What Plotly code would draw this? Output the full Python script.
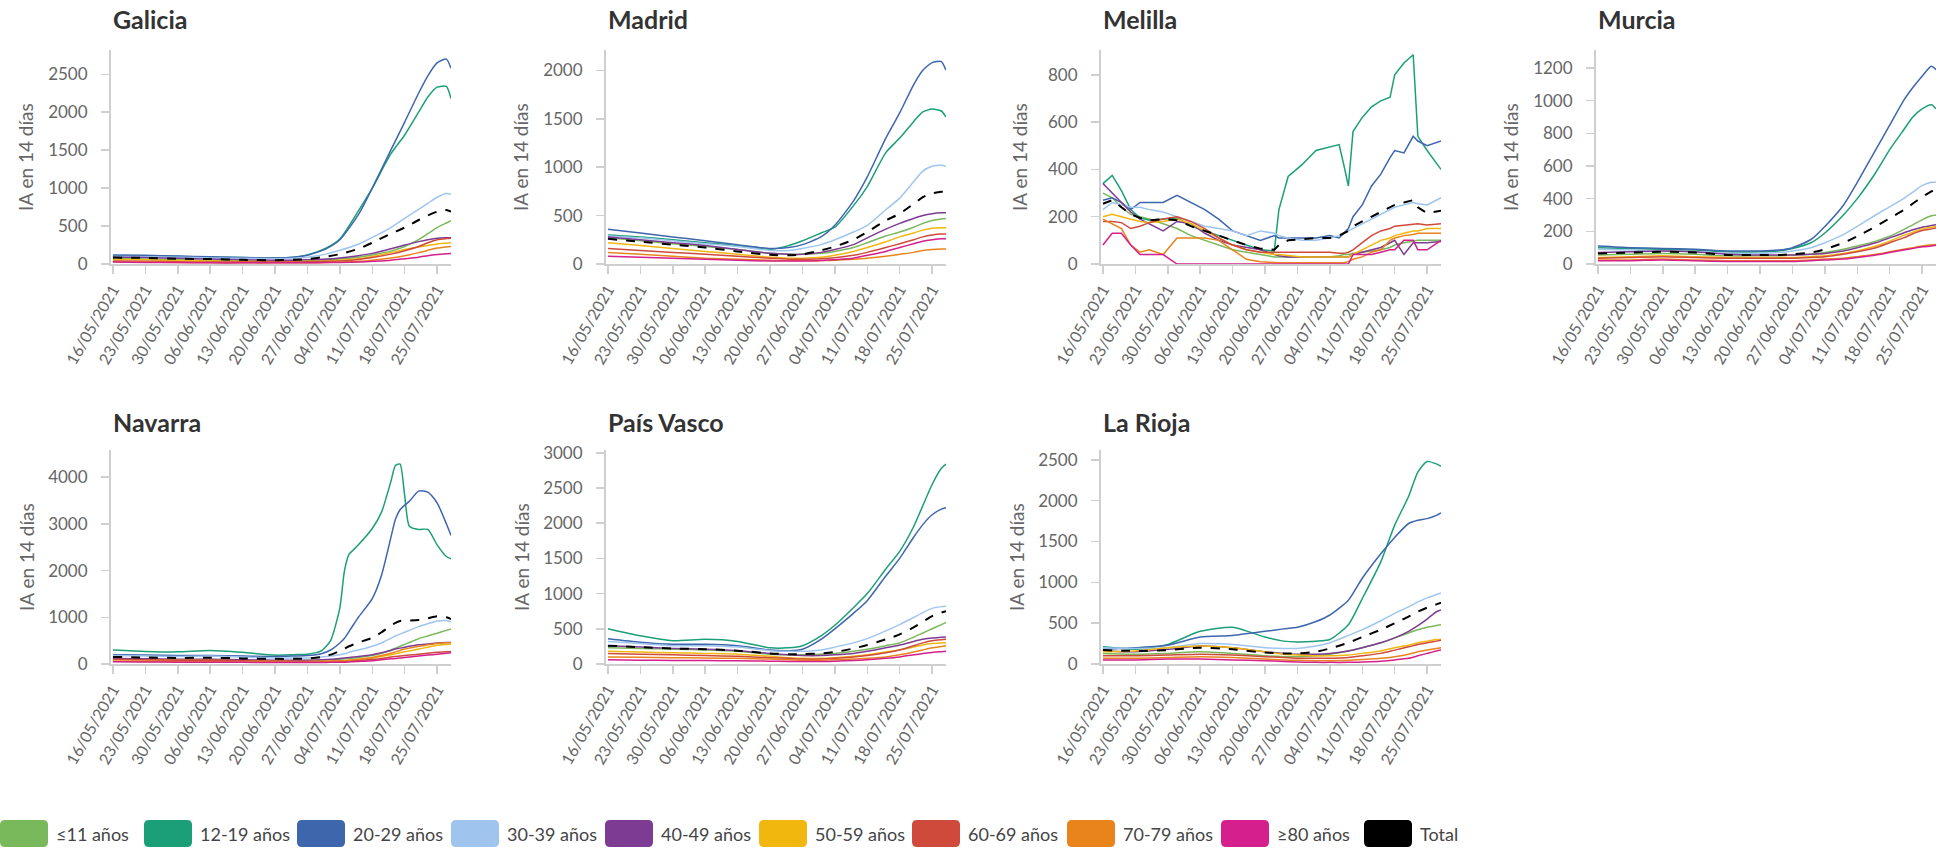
import plotly.graph_objects as go

# ---------------- DATA ----------------
SERIES = ["≤11 años", "12-19 años", "20-29 años", "30-39 años", "40-49 años",
          "50-59 años", "60-69 años", "70-79 años", "≥80 años", "Total"]
COLORS = ["#7ab85c", "#1b9f78", "#3d66ad", "#9fc5ef", "#7d3b93",
          "#f1b70f", "#cf4a3b", "#e9841c", "#d51f8d", "#000000"]
Y_TITLE = "IA en 14 días"

DATES_S = ["2021-05-16", "2021-05-23", "2021-05-30", "2021-06-06", "2021-06-13", "2021-06-20",
           "2021-06-24", "2021-06-27", "2021-07-01", "2021-07-04", "2021-07-08", "2021-07-11",
           "2021-07-15", "2021-07-18", "2021-07-21", "2021-07-23", "2021-07-25", "2021-07-27",
           "2021-07-28"]

DATES_NAV = ["2021-05-16", "2021-05-23", "2021-05-30", "2021-06-06", "2021-06-13", "2021-06-20",
             "2021-06-24", "2021-06-27", "2021-06-30", "2021-07-02", "2021-07-04", "2021-07-05",
             "2021-07-06", "2021-07-07", "2021-07-08", "2021-07-11", "2021-07-13", "2021-07-15",
             "2021-07-16", "2021-07-17", "2021-07-18", "2021-07-19", "2021-07-21", "2021-07-23",
             "2021-07-25", "2021-07-27", "2021-07-28"]

DATES_MEL = ["2021-05-16", "2021-05-18", "2021-05-20", "2021-05-22", "2021-05-24", "2021-05-26",
             "2021-05-29", "2021-06-01", "2021-06-04", "2021-06-07", "2021-06-10", "2021-06-13",
             "2021-06-16", "2021-06-19", "2021-06-22", "2021-06-23", "2021-06-25", "2021-06-28",
             "2021-07-01", "2021-07-04", "2021-07-06", "2021-07-07", "2021-07-08", "2021-07-09",
             "2021-07-11", "2021-07-13", "2021-07-15", "2021-07-17", "2021-07-18", "2021-07-20",
             "2021-07-22", "2021-07-23", "2021-07-25", "2021-07-28"]

# Galicia (DATES_S)
GAL_11 = [70, 65, 55, 50, 45, 40, 40, 45, 55, 65, 90, 120, 170, 230, 320, 400, 480, 540, 570]
GAL_12 = [110, 105, 100, 90, 85, 80, 90, 120, 210, 330, 700, 1000, 1450, 1700, 2000, 2200, 2330, 2340, 2180]
GAL_20 = [120, 115, 105, 95, 85, 80, 90, 115, 200, 320, 650, 1000, 1500, 1870, 2250, 2480, 2650, 2700, 2580]
GAL_30 = [100, 95, 90, 80, 75, 70, 75, 90, 130, 180, 260, 350, 480, 600, 720, 800, 880, 930, 920]
GAL_40 = [90, 85, 75, 65, 55, 50, 50, 55, 65, 80, 110, 140, 200, 250, 295, 320, 340, 345, 345]
GAL_50 = [60, 55, 45, 40, 35, 30, 30, 35, 40, 50, 70, 100, 150, 190, 225, 245, 265, 275, 280]
GAL_60 = [40, 35, 30, 25, 25, 25, 25, 30, 35, 40, 60, 85, 130, 175, 230, 280, 320, 335, 340]
GAL_70 = [30, 25, 20, 20, 15, 15, 15, 15, 20, 25, 35, 50, 80, 110, 150, 180, 210, 225, 230]
GAL_80 = [25, 20, 20, 15, 15, 15, 15, 15, 20, 20, 25, 35, 50, 70, 90, 110, 125, 135, 140]
GAL_TOT = [85, 80, 70, 65, 55, 50, 55, 65, 95, 130, 200, 280, 400, 480, 580, 640, 690, 710, 690]

# Madrid (DATES_S)
MAD_11 = [270, 240, 210, 180, 150, 110, 100, 100, 110, 130, 170, 220, 290, 330, 380, 420, 450, 465, 470]
MAD_12 = [300, 280, 250, 220, 190, 150, 190, 240, 320, 380, 600, 800, 1150, 1300, 1470, 1570, 1600, 1580, 1520]
MAD_20 = [360, 320, 280, 240, 200, 160, 170, 200, 280, 400, 650, 900, 1300, 1560, 1850, 2000, 2080, 2090, 2000]
MAD_30 = [290, 270, 240, 210, 180, 140, 140, 160, 200, 250, 330, 400, 560, 680, 850, 960, 1010, 1020, 1010]
MAD_40 = [280, 250, 220, 190, 150, 110, 100, 100, 120, 150, 200, 270, 360, 420, 470, 500, 520, 530, 530]
MAD_50 = [220, 190, 160, 130, 100, 70, 60, 60, 70, 90, 130, 170, 230, 280, 320, 350, 370, 375, 375]
MAD_60 = [160, 140, 120, 100, 80, 60, 50, 50, 55, 65, 90, 120, 170, 210, 250, 280, 300, 310, 310]
MAD_70 = [120, 100, 80, 60, 50, 40, 35, 35, 35, 40, 50, 60, 80, 100, 120, 140, 150, 155, 155]
MAD_80 = [80, 70, 60, 50, 40, 30, 30, 30, 35, 45, 60, 90, 130, 170, 210, 235, 250, 260, 260]
MAD_TOT = [260, 230, 200, 170, 130, 95, 90, 100, 140, 180, 250, 330, 450, 520, 620, 690, 730, 745, 745]

# Melilla (DATES_MEL)
MEL_11 = [300, 280, 240, 210, 200, 190, 170, 150, 120, 100, 80, 60, 50, 40, 30, 30, 30, 30, 30, 30,
          35, 40, 40, 45, 50, 55, 60, 70, 80, 90, 95, 100, 100, 100]
MEL_12 = [340, 375, 310, 230, 195, 185, 190, 195, 160, 140, 120, 100, 80, 60, 55, 230, 370, 420, 480, 495,
          505, 420, 330, 560, 620, 665, 690, 705, 800, 850, 885, 540, 480, 400]
MEL_20 = [270, 280, 260, 230, 260, 260, 260, 290, 260, 230, 190, 140, 120, 100, 120, 110, 110, 110, 110, 120,
          110, 130, 150, 200, 250, 330, 380, 450, 480, 470, 540, 520, 500, 520]
MEL_30 = [230, 260, 250, 240, 240, 230, 220, 200, 180, 160, 150, 140, 120, 140, 130, 120, 110, 100, 100, 110,
          120, 130, 140, 150, 170, 190, 210, 230, 240, 250, 260, 255, 250, 280]
MEL_40 = [340, 300, 260, 220, 190, 170, 140, 180, 170, 130, 100, 80, 70, 60, 40, 35, 30, 30, 30, 30,
          30, 30, 30, 40, 50, 60, 70, 90, 100, 40, 90, 90, 90, 95]
MEL_50 = [200, 210, 200, 190, 180, 175, 180, 190, 170, 140, 110, 80, 60, 50, 40, 40, 35, 30, 30, 30,
          30, 30, 30, 40, 60, 80, 100, 110, 120, 130, 140, 140, 150, 150]
MEL_60 = [180, 180, 175, 150, 160, 175, 190, 200, 180, 150, 110, 80, 60, 50, 50, 50, 50, 50, 50, 50,
          45, 45, 50, 60, 90, 120, 140, 150, 160, 165, 170, 170, 165, 170]
MEL_70 = [190, 170, 150, 80, 50, 60, 40, 110, 110, 110, 100, 60, 20, 10, 5, 5, 5, 5, 5, 5,
          5, 5, 10, 20, 30, 50, 60, 100, 110, 120, 125, 130, 130, 130]
MEL_80 = [80, 130, 130, 80, 40, 40, 40, 0, 0, 0, 0, 0, 0, 0, 0, 0, 0, 0, 0, 0,
          0, 0, 0, 40, 40, 40, 50, 60, 60, 100, 100, 60, 60, 100]
MEL_TOT = [255, 270, 240, 210, 195, 185, 190, 185, 160, 140, 120, 100, 80, 65, 60, 80, 100, 105, 110, 110,
           120, 130, 140, 160, 180, 200, 220, 240, 250, 260, 270, 240, 215, 225]

# Murcia (DATES_S)
MUR_11 = [55, 60, 65, 60, 50, 50, 50, 55, 60, 70, 90, 110, 140, 170, 210, 240, 270, 295, 300]
MUR_12 = [100, 95, 90, 85, 75, 75, 80, 95, 130, 190, 300, 400, 560, 700, 820, 900, 950, 975, 950]
MUR_20 = [110, 100, 95, 90, 80, 80, 85, 100, 150, 230, 360, 500, 700, 850, 1000, 1080, 1150, 1210, 1190]
MUR_30 = [90, 85, 80, 75, 65, 65, 70, 80, 100, 130, 180, 230, 300, 350, 400, 440, 480, 500, 500]
MUR_40 = [70, 75, 80, 75, 60, 55, 55, 55, 60, 65, 80, 100, 130, 160, 190, 210, 225, 235, 240]
MUR_50 = [40, 45, 50, 45, 40, 40, 40, 40, 45, 50, 65, 80, 110, 140, 175, 195, 215, 225, 230]
MUR_60 = [35, 40, 45, 40, 35, 35, 35, 35, 40, 45, 60, 75, 100, 130, 160, 185, 205, 215, 220]
MUR_70 = [25, 25, 30, 25, 20, 20, 20, 20, 25, 30, 35, 45, 60, 75, 90, 100, 110, 118, 120]
MUR_80 = [20, 20, 25, 20, 15, 15, 15, 15, 20, 25, 30, 40, 55, 70, 85, 95, 105, 110, 115]
MUR_TOT = [65, 70, 75, 70, 55, 55, 55, 60, 70, 90, 130, 170, 230, 280, 330, 370, 410, 445, 460]

# Navarra (DATES_NAV)
NAV_11 = [100, 95, 90, 95, 80, 70, 70, 75, 80, 90, 100, 110, 120, 130, 140, 180, 230, 300, 340, 380,
          420, 460, 540, 600, 660, 720, 750]
NAV_12 = [300, 270, 260, 290, 250, 190, 200, 210, 280, 500, 1200, 2000, 2350, 2450, 2550, 2900, 3250, 3900,
          4250, 4280, 3600, 2950, 2880, 2880, 2550, 2300, 2250]
NAV_20 = [200, 190, 180, 180, 170, 160, 170, 180, 220, 300, 450, 550, 700, 850, 1000, 1400, 1900, 2700,
          3100, 3300, 3400, 3480, 3700, 3680, 3450, 3000, 2750]
NAV_30 = [180, 170, 160, 170, 150, 130, 130, 130, 150, 170, 200, 220, 250, 280, 300, 380, 450, 550, 600,
          640, 680, 720, 800, 860, 920, 930, 900]
NAV_40 = [120, 110, 100, 100, 90, 80, 80, 80, 90, 100, 120, 130, 140, 150, 160, 200, 240, 290, 320, 340,
          360, 380, 410, 430, 450, 460, 460]
NAV_50 = [90, 85, 80, 80, 70, 60, 55, 55, 60, 65, 70, 75, 80, 90, 100, 130, 160, 200, 220, 240, 260,
          280, 320, 360, 400, 420, 430]
NAV_60 = [100, 90, 80, 80, 70, 60, 55, 55, 55, 55, 60, 60, 65, 70, 75, 100, 120, 150, 160, 170, 180,
          190, 210, 230, 250, 260, 270]
NAV_70 = [60, 55, 50, 50, 45, 40, 40, 40, 45, 50, 60, 70, 80, 90, 100, 140, 180, 230, 260, 290, 320,
          340, 380, 410, 440, 455, 460]
NAV_80 = [50, 45, 40, 40, 35, 30, 30, 30, 30, 35, 40, 40, 45, 50, 55, 70, 90, 110, 120, 130, 140, 150,
          170, 190, 210, 230, 240]
NAV_TOT = [150, 140, 130, 135, 120, 110, 110, 115, 150, 200, 280, 330, 380, 420, 460, 560, 680, 820, 880,
           920, 930, 930, 940, 980, 1020, 1000, 960]

# Pais Vasco (DATES_S)
PV_11 = [230, 220, 210, 200, 180, 140, 130, 130, 140, 150, 180, 210, 260, 300, 380, 440, 500, 560, 590]
PV_12 = [500, 400, 330, 350, 320, 230, 230, 260, 400, 550, 800, 1000, 1350, 1600, 1950, 2250, 2550, 2780, 2840]
PV_20 = [360, 310, 280, 280, 260, 200, 190, 210, 350, 500, 720, 900, 1250, 1500, 1800, 1980, 2120, 2200, 2220]
PV_30 = [320, 290, 260, 260, 240, 190, 180, 180, 200, 240, 300, 360, 470, 560, 660, 730, 790, 815, 820]
PV_40 = [260, 240, 220, 210, 190, 150, 130, 120, 120, 130, 150, 180, 230, 270, 320, 350, 370, 380, 385]
PV_50 = [180, 170, 160, 150, 140, 110, 90, 80, 80, 90, 110, 130, 170, 200, 240, 270, 290, 300, 300]
PV_60 = [150, 140, 130, 120, 110, 90, 80, 70, 70, 80, 100, 120, 160, 200, 260, 300, 330, 345, 350]
PV_70 = [100, 95, 90, 85, 80, 70, 60, 55, 55, 60, 70, 80, 100, 130, 170, 200, 230, 250, 260]
PV_80 = [60, 55, 50, 50, 45, 40, 35, 35, 35, 40, 50, 60, 80, 100, 130, 150, 165, 175, 180]
PV_TOT = [260, 240, 220, 210, 190, 150, 140, 140, 150, 170, 220, 270, 350, 420, 520, 600, 680, 730, 750]

# La Rioja (DATES_S)
LR_11 = [130, 120, 130, 150, 130, 100, 90, 90, 100, 120, 160, 200, 260, 320, 380, 420, 450, 470, 480]
LR_12 = [210, 180, 240, 400, 450, 330, 280, 270, 280, 300, 480, 800, 1250, 1700, 2050, 2350, 2480, 2450, 2420]
LR_20 = [180, 200, 230, 330, 350, 400, 430, 450, 520, 600, 780, 1050, 1350, 1550, 1720, 1760, 1780, 1820, 1850]
LR_30 = [200, 190, 200, 250, 240, 200, 190, 190, 220, 260, 350, 420, 530, 620, 700, 760, 810, 850, 870]
LR_40 = [160, 150, 180, 220, 200, 150, 130, 120, 120, 130, 160, 200, 260, 320, 400, 470, 550, 640, 660]
LR_50 = [150, 160, 200, 220, 200, 150, 120, 110, 100, 100, 110, 130, 160, 200, 230, 260, 280, 300, 300]
LR_60 = [100, 100, 110, 120, 110, 90, 80, 70, 70, 70, 80, 100, 130, 170, 210, 240, 260, 280, 290]
LR_70 = [70, 70, 80, 90, 80, 60, 50, 45, 40, 40, 45, 55, 70, 90, 120, 150, 170, 190, 200]
LR_80 = [50, 50, 60, 60, 50, 40, 30, 25, 20, 20, 20, 25, 35, 50, 70, 100, 130, 160, 170]
LR_TOT = [170, 160, 170, 200, 180, 140, 130, 130, 150, 190, 260, 330, 420, 500, 580, 640, 690, 730, 750]

PANELS = [
    ("Galicia", DATES_S, [GAL_11, GAL_12, GAL_20, GAL_30, GAL_40, GAL_50, GAL_60, GAL_70, GAL_80, GAL_TOT], 2820, 500),
    ("Madrid", DATES_S, [MAD_11, MAD_12, MAD_20, MAD_30, MAD_40, MAD_50, MAD_60, MAD_70, MAD_80, MAD_TOT], 2210, 500),
    ("Melilla", DATES_MEL, [MEL_11, MEL_12, MEL_20, MEL_30, MEL_40, MEL_50, MEL_60, MEL_70, MEL_80, MEL_TOT], 905, 200),
    ("Murcia", DATES_S, [MUR_11, MUR_12, MUR_20, MUR_30, MUR_40, MUR_50, MUR_60, MUR_70, MUR_80, MUR_TOT], 1310, 200),
    ("Navarra", DATES_NAV, [NAV_11, NAV_12, NAV_20, NAV_30, NAV_40, NAV_50, NAV_60, NAV_70, NAV_80, NAV_TOT], 4580, 1000),
    ("País Vasco", DATES_S, [PV_11, PV_12, PV_20, PV_30, PV_40, PV_50, PV_60, PV_70, PV_80, PV_TOT], 3040, 500),
    ("La Rioja", DATES_S, [LR_11, LR_12, LR_20, LR_30, LR_40, LR_50, LR_60, LR_70, LR_80, LR_TOT], 2620, 500),
]

# ---------------- LAYOUT ----------------
W, H = 1950, 849
COL_LEFT = [111, 606, 1101, 1596]
PLOT_W = 340
ROW_TOP = [50, 450]
PLOT_H = 214
TITLE_Y = [19, 422]
FONT = "Lato, 'Open Sans', sans-serif"
GREY = "#666666"
AXIS_GREY = "#cfcfcf"

fig = go.Figure()
layout = dict(
    width=W, height=H, margin=dict(l=0, r=0, t=0, b=0, autoexpand=False),
    paper_bgcolor="white", plot_bgcolor="white", showlegend=False,
    font=dict(family=FONT, color=GREY),
)
annotations = []
shapes = []

for i, (name, dates, series, ymax, dtick) in enumerate(PANELS):
    row, col = divmod(i, 4)
    n = i + 1
    xa = "x" if n == 1 else f"x{n}"
    ya = "y" if n == 1 else f"y{n}"
    x0 = COL_LEFT[col] / W
    x1 = (COL_LEFT[col] + PLOT_W) / W
    ytop = 1 - ROW_TOP[row] / H
    ybot = 1 - (ROW_TOP[row] + PLOT_H) / H
    shape = "linear" if name == "Melilla" else "spline"
    for k, vals in enumerate(series):
        fig.add_trace(go.Scatter(
            x=dates, y=vals, mode="lines", name=SERIES[k], xaxis=xa, yaxis=ya,
            line=dict(color=COLORS[k], width=2 if k == 9 else 1.5,
                      dash="dash" if k == 9 else "solid", shape=shape,
                      smoothing=0.6 if shape == "spline" else None),
            hoverinfo="skip"))
    layout["xaxis" if n == 1 else f"xaxis{n}"] = dict(
        domain=[x0, x1], anchor=ya, type="date",
        range=["2021-05-15 14:00", "2021-07-28"],
        tick0="2021-05-16", dtick=7 * 86400000, tickformat="%d/%m/%Y",
        tickangle=-60, ticks="outside", ticklen=8, tickcolor=AXIS_GREY, tickwidth=1.5,
        showline=True, linecolor=AXIS_GREY, linewidth=2, showgrid=False, zeroline=False,
        tickfont=dict(family=FONT, size=16, color=GREY), fixedrange=True)
    layout["yaxis" if n == 1 else f"yaxis{n}"] = dict(
        domain=[ybot, ytop], anchor=xa, range=[0, ymax], dtick=dtick, tick0=0,
        ticks="outside", ticklen=8, tickcolor=AXIS_GREY, tickwidth=1.5,
        ticklabelstandoff=10,
        showline=True, linecolor=AXIS_GREY, linewidth=2, showgrid=False, zeroline=False,
        tickfont=dict(family=FONT, size=17, color=GREY), fixedrange=True)
    # panel title
    annotations.append(dict(
        text=f"<b>{name}</b>", x=x0, y=1 - TITLE_Y[row] / H, xref="paper", yref="paper",
        xanchor="left", yanchor="middle", showarrow=False,
        font=dict(family=FONT, size=25, color="#333333")))
    # y-axis title
    off = 81 if name == "Melilla" else 85
    annotations.append(dict(
        text=Y_TITLE, x=(COL_LEFT[col] - off) / W, y=(ytop + ybot) / 2,
        xref="paper", yref="paper", xanchor="center", yanchor="middle",
        textangle=-90, showarrow=False, font=dict(family=FONT, size=19, color=GREY)))

# legend (manual)
LEG_X = [0, 144, 297, 451, 605, 759, 912, 1067, 1221, 1364]
SQ_W, SQ_H = 48, 27
LEG_TOP = 820
r = 5
for k, lx in enumerate(LEG_X):
    xa0, xa1 = lx / W, (lx + SQ_W) / W
    yb0, yb1 = 1 - (LEG_TOP + SQ_H) / H, 1 - LEG_TOP / H
    rx, ry = r / W, r / H
    path = (f"M {xa0+rx},{yb0} L {xa1-rx},{yb0} Q {xa1},{yb0} {xa1},{yb0+ry} "
            f"L {xa1},{yb1-ry} Q {xa1},{yb1} {xa1-rx},{yb1} L {xa0+rx},{yb1} "
            f"Q {xa0},{yb1} {xa0},{yb1-ry} L {xa0},{yb0+ry} Q {xa0},{yb0} {xa0+rx},{yb0} Z")
    shapes.append(dict(type="path", path=path, xref="paper", yref="paper",
                       fillcolor=COLORS[k], line=dict(width=0)))
    annotations.append(dict(
        text=SERIES[k], x=(lx + SQ_W + 6) / W, y=1 - (LEG_TOP + SQ_H / 2) / H,
        xref="paper", yref="paper", xanchor="left", yanchor="middle", showarrow=False,
        font=dict(family=FONT, size=18, color="#444444")))

layout["annotations"] = annotations
layout["shapes"] = shapes
fig.update_layout(**layout)
fig.write_html(
    "out.html",
    config={"displayModeBar": False, "staticPlot": True},
    post_script="document.body.style.margin='0px';document.body.style.overflow='hidden';"
                "document.documentElement.style.overflow='hidden';",
)
